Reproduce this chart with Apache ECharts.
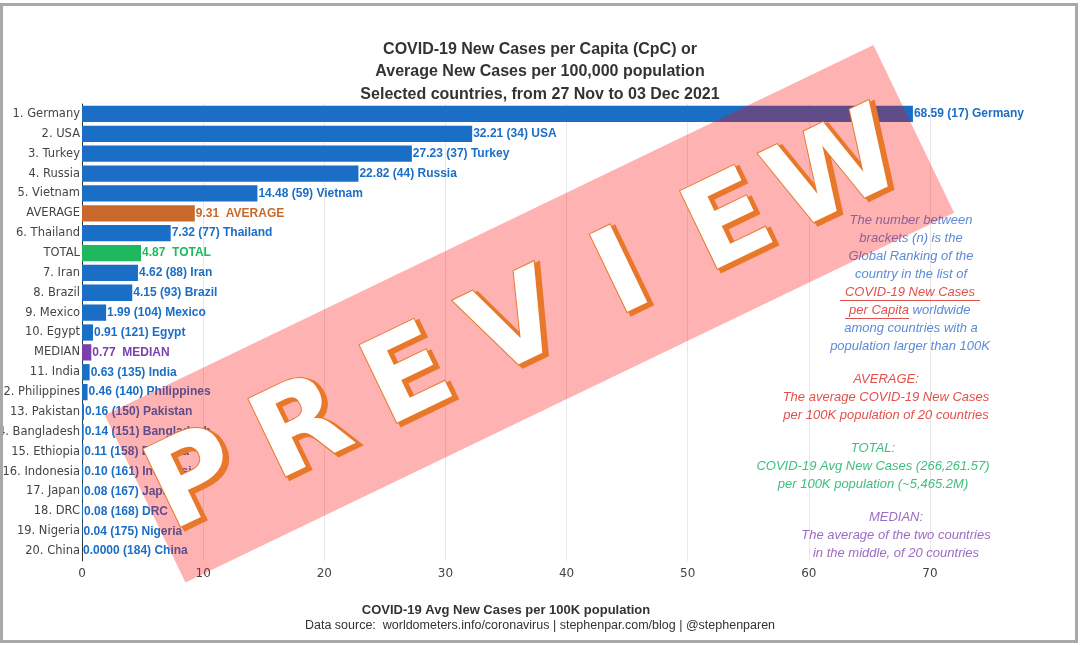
<!DOCTYPE html>
<html><head><meta charset="utf-8">
<script src="https://cdn.jsdelivr.net/npm/echarts@6/dist/echarts.min.js"></script>
<style>html,body{margin:0;padding:0;background:#fff}#c{width:1080px;height:646px}</style>
</head><body><div id="c"></div>
<script>
// ---- data ----
const categories = ['1. Germany','2. USA','3. Turkey','4. Russia','5. Vietnam','AVERAGE','6. Thailand','TOTAL','7. Iran','8. Brazil','9. Mexico','10. Egypt','MEDIAN','11. India','12. Philippines','13. Pakistan','14. Bangladesh','15. Ethiopia','16. Indonesia','17. Japan','18. DRC','19. Nigeria','20. China'];
const names = ['Germany','USA','Turkey','Russia','Vietnam','AVERAGE','Thailand','TOTAL','Iran','Brazil','Mexico','Egypt','MEDIAN','India','Philippines','Pakistan','Bangladesh','Ethiopia','Indonesia','Japan','DRC','Nigeria','China'];
const values = [68.59,32.21,27.23,22.82,14.48,9.31,7.32,4.87,4.62,4.15,1.99,0.91,0.77,0.63,0.46,0.16,0.14,0.11,0.10,0.08,0.08,0.04,0.0000];
const valueText = ['68.59','32.21','27.23','22.82','14.48','9.31','7.32','4.87','4.62','4.15','1.99','0.91','0.77','0.63','0.46','0.16','0.14','0.11','0.10','0.08','0.08','0.04','0.0000'];
const globalRanks = [17,34,37,44,59,null,77,null,88,93,104,121,null,135,140,150,151,158,161,167,168,175,184];
const xTicks = [0,10,20,30,40,50,60,70];

const colors = {country:'#1b6ec5', AVERAGE:'#c8692b', TOTAL:'#1fb85e', MEDIAN:'#7b3fae'};
const labelColors = {country:'#1b6ec5', AVERAGE:'#c8692b', TOTAL:'#1fb85e', MEDIAN:'#7b3fae'};

const barData = values.map((v,i)=>{
  const k = globalRanks[i]===null ? names[i] : 'country';
  return {value:v, itemStyle:{color:colors[k]}, label:{color:labelColors[k]}};
});

const noteBlue = '#5b8bd6', noteRed = '#e2504c', noteGreen = '#3fbf7c', notePurple = '#9c6cc4';
const noteFont = 'italic 13px "Liberation Sans", Arial, sans-serif';
function t(txt, x, y, fill, align){
  return {type:'text', x:x, y:y, z:50, style:{text:txt, fill:fill, font:noteFont,
    align:align||'center', textAlign:align||'center', verticalAlign:'middle', textVerticalAlign:'middle'}};
}

const th = 25.7*Math.PI/180;
const letters = 'PREVIEW'.split('');
const wmFont = 'bold 118px "DejaVu Sans", sans-serif';
const wmChildren = [{type:'rect', z:200, shape:{x:-426, y:-93, width:853, height:186}, style:{fill:'rgba(255,0,0,0.3)'}}];
letters.forEach((ch,i)=>{
  const u = -18 + 118.5*(i-3);
  wmChildren.push({type:'text', z:201, x:u+3, y:14, style:{text:ch, fill:'#e8782a', stroke:'#e8782a', lineWidth:4, font:wmFont, align:'center', textAlign:'center', verticalAlign:'middle', textVerticalAlign:'middle'}});
  wmChildren.push({type:'text', z:202, x:u, y:10, style:{text:ch, fill:'#ffffff', stroke:'#e8782a', lineWidth:2, font:wmFont, align:'center', textAlign:'center', verticalAlign:'middle', textVerticalAlign:'middle'}});
});

const chart = echarts.init(document.getElementById('c'), null, {renderer:'canvas'});
chart.setOption({
  backgroundColor:'#ffffff',
  animation:false,
  title:[{
    text:'COVID-19 New Cases per Capita (CpC) or\nAverage New Cases per 100,000 population\nSelected countries, from 27 Nov to 03 Dec 2021',
    left:'center', top:33,
    textStyle:{fontFamily:'"Liberation Sans", Arial, sans-serif', fontSize:16, fontWeight:'bold', color:'#333', lineHeight:22.5, align:'center'}
  }],
  grid:{left:82, right:150, top:104, bottom:85, containLabel:false, outerBoundsMode:'none'},
  xAxis:{
    type:'value', min:0, max:70, interval:10,
    name:'COVID-19 Avg New Cases per 100K population', nameLocation:'middle', nameGap:43,
    nameTextStyle:{fontFamily:'"Liberation Sans", Arial, sans-serif', fontSize:13, fontWeight:'bold', color:'#333'},
    axisLine:{show:false}, axisTick:{show:false},
    axisLabel:{fontFamily:'"DejaVu Sans", Verdana, sans-serif', fontSize:12, color:'#444', margin:7,
      formatter:(v)=> xTicks.indexOf(v)>=0 ? String(v) : ''},
    splitLine:{show:true, lineStyle:{color:'#e8e8e8', width:1}}
  },
  yAxis:{
    type:'category', data:categories, inverse:true,
    axisLine:{show:true, lineStyle:{color:'#333', width:1}}, axisTick:{show:false},
    axisLabel:{fontFamily:'"DejaVu Sans", Verdana, sans-serif', fontSize:11.5, color:'#444', margin:2},
    splitLine:{show:false}
  },
  series:[{
    type:'bar', data:barData, barCategoryGap:'18%',
    label:{show:true, position:'right', distance:1,
      fontFamily:'"Liberation Sans", Arial, sans-serif', fontSize:12, fontWeight:'bold',
      formatter:(p)=>{
        const i=p.dataIndex;
        return globalRanks[i]===null ? valueText[i]+'  '+names[i] : valueText[i]+' ('+globalRanks[i]+') '+names[i];
      }}
  }],
  graphic:[
    {type:'rect', shape:{x:1.5, y:4.5, width:1075, height:637}, style:{fill:'none', stroke:'#a8a8a8', lineWidth:3}, z:60, silent:true},
    t('The number between', 911, 220, noteBlue),
    t('brackets (n) is the', 911, 238, noteBlue),
    t('Global Ranking of the', 911, 256, noteBlue),
    t('country in the list of', 911, 274, noteBlue),
    t('COVID-19 New Cases', 910, 292, noteRed),
    {type:'line', z:50, shape:{x1:840, y1:300.5, x2:980, y2:300.5}, style:{stroke:noteRed, lineWidth:1}},
    t('per Capita', 909, 310, noteRed, 'right'),
    {type:'line', z:50, shape:{x1:845, y1:318.5, x2:909, y2:318.5}, style:{stroke:noteRed, lineWidth:1}},
    t(' worldwide', 909, 310, noteBlue, 'left'),
    t('among countries with a', 911, 328, noteBlue),
    t('population larger than 100K', 910, 346, noteBlue),
    t('AVERAGE:', 886, 379, noteRed),
    t('The average COVID-19 New Cases', 886, 397, noteRed),
    t('per 100K population of 20 countries', 886, 415, noteRed),
    t('TOTAL:', 873, 448, noteGreen),
    t('COVID-19 Avg New Cases (266,261.57)', 873, 466, noteGreen),
    t('per 100K population (~5,465.2M)', 873, 484, noteGreen),
    t('MEDIAN:', 896, 517, notePurple),
    t('The average of the two countries', 896, 535, notePurple),
    t('in the middle, of 20 countries', 896, 553, notePurple),
    {type:'text', x:540, y:626, z:50, style:{text:'Data source:  worldometers.info/coronavirus | stephenpar.com/blog | @stephenparen', fill:'#333',
      font:'12.5px "Liberation Sans", Arial, sans-serif', align:'center', textAlign:'center', verticalAlign:'middle', textVerticalAlign:'middle'}},
    {type:'group', x:529, y:314, rotation:th, z:200, silent:true, children:wmChildren}
  ]
});
</script></body></html>
